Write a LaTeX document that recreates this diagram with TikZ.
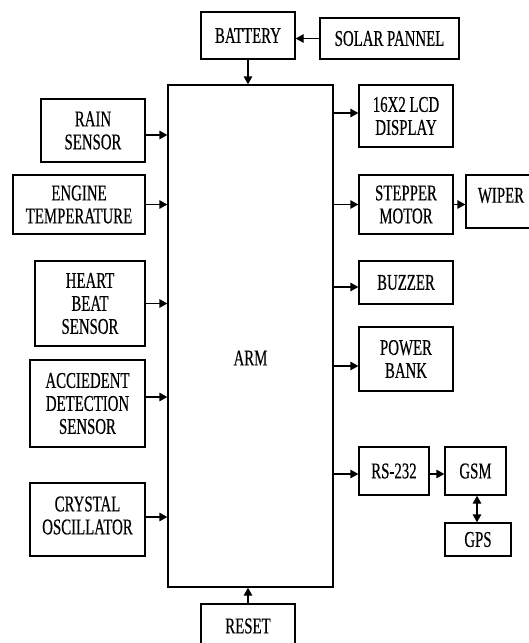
\documentclass[tikz,border=0pt]{standalone}
\usepackage{fontspec}
\setmainfont{Liberation Serif}[FakeStretch=0.66,FakeBold=0.4]
\usetikzlibrary{arrows.meta,positioning}

\begin{document}
\begin{tikzpicture}[
  x=1pt, y=-1pt,
  font=\fontsize{22.5}{23}\selectfont,
  box/.style={draw, line width=1.3pt, align=center, inner sep=0pt},
  arr/.style={-{Triangle[length=8pt,width=8.5pt]}, line width=1.3pt},
  dbl/.style={{Triangle[length=8pt,width=8.5pt]}-{Triangle[length=8pt,width=8.5pt]}, line width=1.3pt}
]
  \useasboundingbox (0,0) rectangle (529,643);

  % controller
  \node[box, minimum width=165pt, minimum height=502pt] (arm) at (250.5,336) {\raisebox{-22pt}[\height][\depth]{ARM}};

  % power
  \node[box, minimum width=94pt, minimum height=47pt] (battery) at (248,35.5) {BATTERY};
  \node[box, minimum width=139pt, minimum height=41pt] (solar) at (389.5,38.5) {SOLAR PANNEL};
  \node[box, minimum width=94pt, minimum height=44pt] (reset) at (248,626) {RESET};

  % inputs
  \node[box, minimum width=104pt, minimum height=63pt] (rain) at (93,130.5) {RAIN\\SENSOR};
  \node[box, minimum width=132pt, minimum height=59pt] (engine) at (79,204.5) {ENGINE\\TEMPERATURE};
  \node[box, minimum width=110pt, minimum height=85pt] (heart) at (90,303.5) {HEART\\BEAT\\SENSOR};
  \node[box, minimum width=115pt, minimum height=87pt] (accident) at (87.5,403.5) {ACCIEDENT\\DETECTION\\SENSOR};
  \node[box, minimum width=115pt, minimum height=73pt] (crystal) at (87.5,519.5) {\raisebox{4pt}[\height][\depth]{CRYSTAL}\\\raisebox{4pt}[\height][\depth]{OSCILLATOR}};

  % outputs
  \node[box, minimum width=94pt, minimum height=62pt] (lcd) at (406,116) {16X2 LCD\\DISPLAY};
  \node[box, minimum width=94pt, minimum height=59pt] (stepper) at (406,204.5) {STEPPER\\MOTOR};
  \node[box, minimum width=70pt, minimum height=53pt] (wiper) at (501,201.5) {\raisebox{6pt}[\height][\depth]{WIPER}};
  \node[box, minimum width=94pt, minimum height=43pt] (buzzer) at (406,282.5) {BUZZER};
  \node[box, minimum width=94pt, minimum height=64pt] (power) at (406,359) {POWER\\BANK};
  \node[box, minimum width=70pt, minimum height=48pt] (rs) at (394,471) {RS-232};
  \node[box, minimum width=61pt, minimum height=48pt] (gsm) at (475.5,471) {GSM};
  \node[box, minimum width=66pt, minimum height=33pt] (gps) at (478,539.5) {GPS};

  % connections
  \draw[arr] (solar.west) -- (solar.west -| battery.east);
  \draw[arr] (battery.south) -- (battery.south |- arm.north);
  \draw[arr] (reset.north) -- (reset.north |- arm.south);

  \draw[arr] ([yshift=-4.5pt]rain.east) -- ([yshift=-4.5pt]rain.east -| arm.west);
  \draw[arr] (engine.east) -- (engine.east -| arm.west);
  \draw[arr] (heart.east) -- (heart.east -| arm.west);
  \draw[arr] ([yshift=6.5pt]accident.east) -- ([yshift=6.5pt]accident.east -| arm.west);
  \draw[arr] ([yshift=2.5pt]crystal.east) -- ([yshift=2.5pt]crystal.east -| arm.west);

  \draw[arr] ([yshift=3pt]lcd.west -| arm.east) -- ([yshift=3pt]lcd.west);
  \draw[arr] (stepper.west -| arm.east) -- (stepper.west);
  \draw[arr] (stepper.east) -- (stepper.east -| wiper.west);
  \draw[arr] ([yshift=-4.5pt]buzzer.west -| arm.east) -- ([yshift=-4.5pt]buzzer.west);
  \draw[arr] ([yshift=-7pt]power.west -| arm.east) -- ([yshift=-7pt]power.west);
  \draw[arr] ([yshift=-3pt]rs.west -| arm.east) -- ([yshift=-3pt]rs.west);
  \draw[arr] ([yshift=-3pt]rs.east) -- ([yshift=-3pt]rs.east -| gsm.west);
  \draw[dbl] ([xshift=1.5pt]gsm.south) -- ([xshift=1.5pt]gsm.south |- gps.north);
\end{tikzpicture}
\end{document}
